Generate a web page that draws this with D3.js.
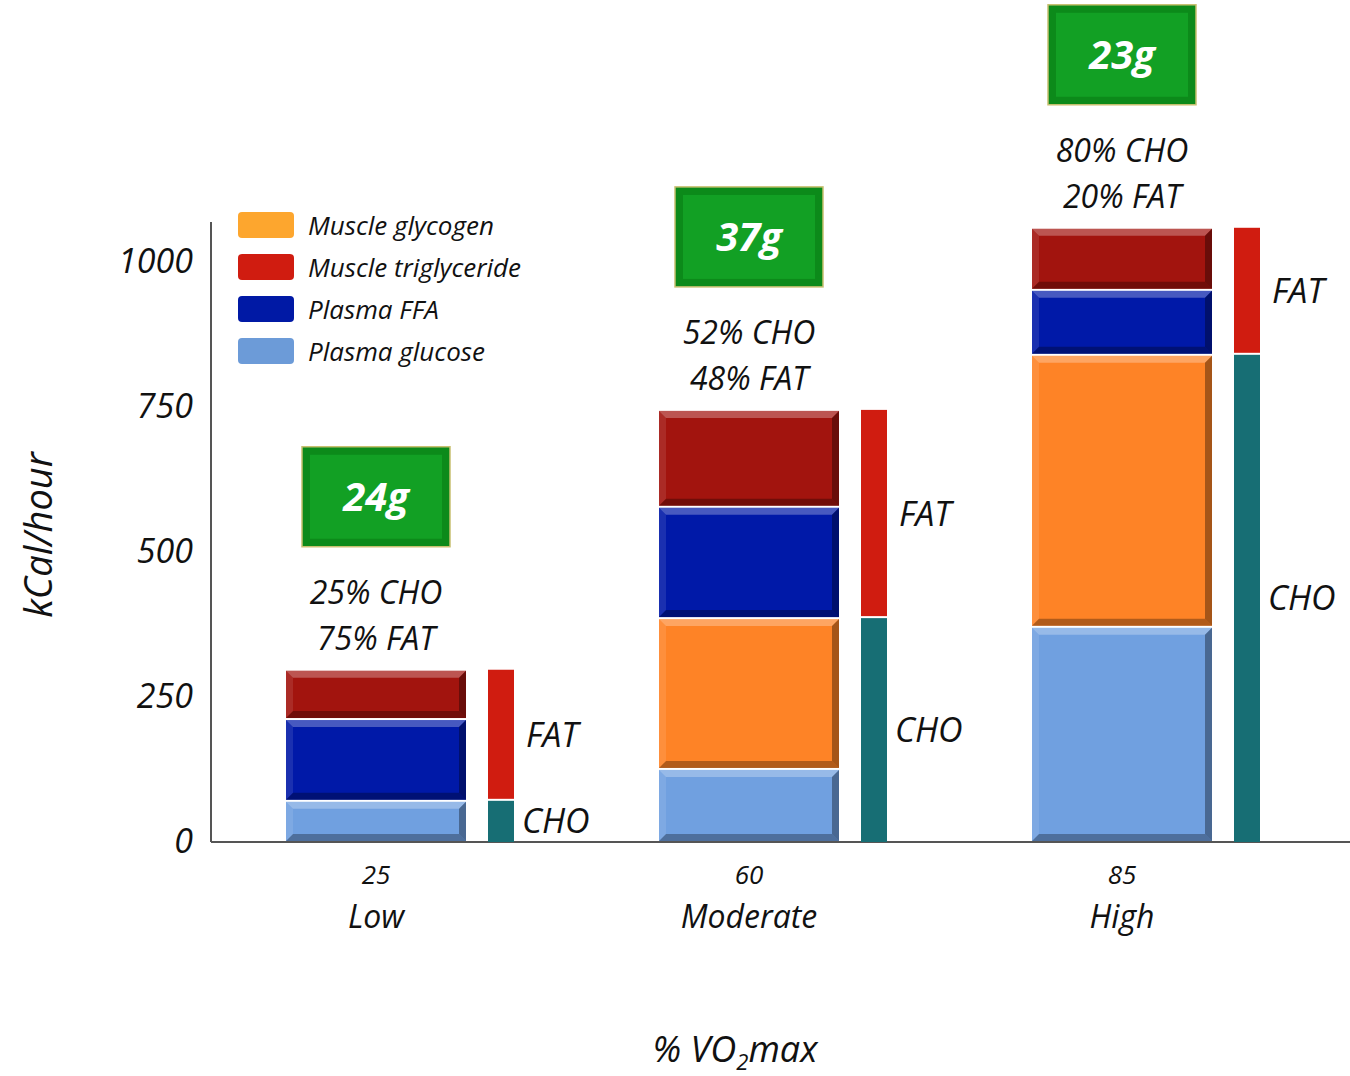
<!DOCTYPE html>
<html><head><meta charset="utf-8">
<script src="https://cdn.jsdelivr.net/npm/d3@7"></script>
<style>body{margin:0;background:#fff}svg{display:block}text{font-family:"Open Sans","DejaVu Sans",sans-serif;font-style:italic;fill:#111}</style>
</head><body><svg id="c" width="1350" height="1076"></svg>
<script>
const categories = ["Low","Moderate","High"];
const vo2 = ["25","60","85"];
const plasmaGlucose = [71,126,371];
const muscleGlycogen = [0,260,469];
const plasmaFFA = [141,192,112];
const muscleTG = [85,167,107];
const grams = ["24g","37g","23g"];
const choPct = ["25% CHO","52% CHO","80% CHO"];
const fatPct = ["75% FAT","48% FAT","20% FAT"];
const yTicks = [0,250,500,750,1000];
const seriesNames = ["Plasma glucose","Muscle glycogen","Plasma FFA","Muscle triglyceride"];
const legendOrder = ["Muscle glycogen","Muscle triglyceride","Plasma FFA","Plasma glucose"];

const colors = {"Plasma glucose":"#70a0e0","Muscle glycogen":"#fe8326","Plasma FFA":"#0019a8","Muscle triglyceride":"#a2140e"};
const legendColors = {"Plasma glucose":"#6c9bd8","Muscle glycogen":"#fda62e","Plasma FFA":"#0019a5","Muscle triglyceride":"#d01c10"};
const fatColor="#d01c10", choColor="#176e74";

const svg=d3.select("#c");
const y=d3.scaleLinear().domain([0,1000]).range([842,262]);
const x=d3.scalePoint().domain(categories).range([189.5,1308.5]).padding(0.5);
const barW=180, sideOff=112, sideW=26;

// axes
svg.append("line").attr("x1",211).attr("x2",211).attr("y1",222).attr("y2",842).attr("stroke","#555").attr("stroke-width",2);
svg.append("line").attr("x1",211).attr("x2",1350).attr("y1",842).attr("y2",842).attr("stroke","#555").attr("stroke-width",2);
const yAxis=d3.axisLeft(y).tickValues(yTicks).tickFormat(d3.format("d")).tickSize(0).tickPadding(14);
const ya=svg.append("g").attr("transform","translate(197,0)").call(yAxis);
ya.select(".domain").remove();
ya.selectAll("text").style("font-size","34px").style("font-family",'"Open Sans",sans-serif').attr("fill","#111").attr("dx","10");

// stacks
const table=categories.map((c,i)=>({cat:c,"Plasma glucose":plasmaGlucose[i],"Muscle glycogen":muscleGlycogen[i],"Plasma FFA":plasmaFFA[i],"Muscle triglyceride":muscleTG[i]}));
const stack=d3.stack().keys(seriesNames)(table);
function bevel(g,x0,y0,w,h,fill){
  if(h<=0) return;
  g.append("rect").attr("x",x0).attr("y",y0).attr("width",w).attr("height",h).attr("fill",fill);
  const b=Math.min(7,h/3);
  g.append("path").attr("d",`M${x0},${y0}h${w}l${-b},${b}h${-(w-2*b)}z`).attr("fill","#fff").attr("opacity",0.28);
  g.append("path").attr("d",`M${x0},${y0+h}h${w}l${-b},${-b}h${-(w-2*b)}z`).attr("fill","#000").attr("opacity",0.3);
  g.append("path").attr("d",`M${x0+w},${y0}v${h}l${-b},${-b}v${-(h-2*b)}z`).attr("fill","#000").attr("opacity",0.35);
  g.append("path").attr("d",`M${x0},${y0}v${h}l${b},${-b}v${-(h-2*b)}z`).attr("fill","#fff").attr("opacity",0.1);
}
const bars=svg.append("g");
stack.forEach(s=>{
  s.forEach((d,i)=>{
    const top=y(d[1]), bot=y(d[0]);
    bevel(bars,x(categories[i])-barW/2,top+1,barW,bot-top-2,colors[s.key]);
  });
});

// side bars
categories.forEach((c,i)=>{
  const cho=plasmaGlucose[i]+muscleGlycogen[i];
  const fat=plasmaFFA[i]+muscleTG[i];
  const sx=x(c)+sideOff;
  svg.append("rect").attr("x",sx).attr("y",y(cho)).attr("width",sideW).attr("height",y(0)-y(cho)).attr("fill",choColor);
  svg.append("rect").attr("x",sx).attr("y",y(cho+fat)).attr("width",sideW).attr("height",y(cho)-y(cho+fat)-2).attr("fill",fatColor);
  svg.append("text").attr("x",sx+sideW+12).attr("y",(y(cho)+y(cho+fat))/2+12).style("font-size","34px").text("FAT");
  svg.append("text").attr("x",sx+sideW+8).attr("y",(y(0)+y(cho))/2+12).style("font-size","34px").text("CHO");
  const total=cho+fat, t=y(total);
  svg.append("text").attr("x",x(c)).attr("y",t-66).attr("text-anchor","middle").style("font-size","32px").text(choPct[i]);
  svg.append("text").attr("x",x(c)).attr("y",t-20).attr("text-anchor","middle").style("font-size","32px").text(fatPct[i]);
  // green box
  const bw=148,bh=100,bx=x(c)-bw/2,by=t-223;
  svg.append("rect").attr("x",bx).attr("y",by).attr("width",bw).attr("height",bh).attr("fill","#0c8a1a").attr("stroke","#c8c070").attr("stroke-width",1.5);
  svg.append("rect").attr("x",bx+8).attr("y",by+8).attr("width",bw-16).attr("height",bh-16).attr("fill","#12a024");
  svg.append("text").attr("x",x(c)).attr("y",by+bh/2+14).attr("text-anchor","middle").style("font-size","40px").style("font-weight","bold").style("fill","#fff").text(grams[i]);
  // x labels
  svg.append("text").attr("x",x(c)).attr("y",884).attr("text-anchor","middle").style("font-size","26px").text(vo2[i]);
  svg.append("text").attr("x",x(c)).attr("y",928).attr("text-anchor","middle").style("font-size","32px").text(c);
});

// legend
legendOrder.forEach((k,i)=>{
  const ly=212+i*42;
  svg.append("rect").attr("x",238).attr("y",ly).attr("width",56).attr("height",26).attr("rx",4).attr("fill",legendColors[k]);
  svg.append("text").attr("x",308).attr("y",ly+23).style("font-size","26px").text(k);
});

// titles
svg.append("text").attr("transform","translate(52,535) rotate(-90)").attr("text-anchor","middle").style("font-size","38px").text("kCal/hour");
const xt=svg.append("text").attr("x",735).attr("y",1062).attr("text-anchor","middle").style("font-size","36px");
xt.append("tspan").text("% VO");
xt.append("tspan").attr("dy",8).style("font-size","22px").text("2");
xt.append("tspan").attr("dy",-8).text("max");
</script></body></html>
